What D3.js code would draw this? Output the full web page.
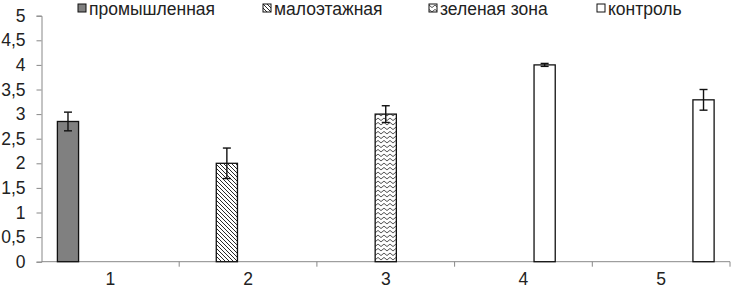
<!DOCTYPE html>
<html>
<head>
<meta charset="utf-8">
<script src="https://cdn.jsdelivr.net/npm/d3@7"></script>
<style>
  body { margin: 0; background: #fff; }
  text { font-family: "Liberation Sans", Arial, sans-serif; fill: #222; }
</style>
</head>
<body>
<svg></svg>
<script>
// categories on the x axis
const categories = ["1", "2", "3", "4", "5"];
// five series (slots inside each group); only the first four are in the legend
const slots = ["s1", "s2", "s3", "s4", "s5"];
const legendNames = ["промышленная", "малоэтажная", "зеленая зона", "контроль"];
// one non-empty bar per category, in slot = category index
const means = [2.85, 2.0, 3.0, 4.0, 3.29];
const errors = [0.19, 0.31, 0.17, 0.03, 0.21];
const yTicks = [0, 0.5, 1, 1.5, 2, 2.5, 3, 3.5, 4, 4.5, 5];
const fills = ["#808080", "url(#diag)", "url(#zig)", "#fff", "#fff"];

const WIDTH = 731, HEIGHT = 289;
const M = {left: 41.5, right: 1, top: 15.7, bottom: 27.3};
const FONT = '17.5px';

const svg = d3.select('svg')
  .attr('width', WIDTH)
  .attr('height', HEIGHT);

// patterns
const defs = svg.append('defs');
const diag = defs.append('pattern')
  .attr('id', 'diag').attr('patternUnits', 'userSpaceOnUse')
  .attr('width', 4).attr('height', 4);
diag.append('rect').attr('width', 4).attr('height', 4).attr('fill', '#fff');
diag.append('path').attr('d', 'M-1,-1 L5,5 M-1,3 L1,5 M3,-1 L5,1')
  .attr('stroke', '#111').attr('stroke-width', 0.9);

const zig = defs.append('pattern')
  .attr('id', 'zig').attr('patternUnits', 'userSpaceOnUse')
  .attr('width', 6).attr('height', 4.5);
zig.append('rect').attr('width', 6).attr('height', 4.5).attr('fill', '#fff');
zig.append('path').attr('d', 'M0,1 L3,3.5 L6,1')
  .attr('stroke', '#111').attr('stroke-width', 0.8).attr('fill', 'none');

const x0 = d3.scaleBand().domain(categories).range([M.left, WIDTH - M.right]);
const x1 = d3.scaleBand().domain(slots).range([0, x0.bandwidth()])
  .paddingInner(0).paddingOuter(0.75);
const y = d3.scaleLinear().domain([0, 5]).range([HEIGHT - M.bottom, M.top]);

const fmt = d => String(d).replace('.', ',');

// y axis
const yAxis = svg.append('g')
  .attr('transform', `translate(${M.left},0)`)
  .call(d3.axisLeft(y).tickValues(yTicks).tickFormat(fmt).tickSize(5).tickPadding(11));
yAxis.select('.domain').attr('stroke', '#888');
yAxis.selectAll('.tick line').attr('stroke', '#888');
yAxis.selectAll('.tick text').style('font-size', FONT).attr('fill', '#222');

// x axis: ticks at category boundaries
const xAxis = svg.append('g')
  .attr('transform', `translate(0,${y(0)})`);
xAxis.append('line')
  .attr('x1', M.left).attr('x2', WIDTH - M.right)
  .attr('stroke', '#888');
xAxis.selectAll('.bnd')
  .data(categories)
  .enter().append('line')
  .attr('x1', d => x0(d) + x0.bandwidth()).attr('x2', d => x0(d) + x0.bandwidth())
  .attr('y1', 0).attr('y2', 5)
  .attr('stroke', '#888');
xAxis.selectAll('.lbl')
  .data(categories)
  .enter().append('text')
  .text(d => d)
  .attr('x', d => x0(d) + x0.bandwidth() / 2)
  .attr('y', 23.5)
  .attr('text-anchor', 'middle')
  .style('font-size', FONT);

// bars
const barX = (d, i) => x0(categories[i]) + x1(slots[i]);
svg.selectAll('.bar')
  .data(means)
  .enter().append('rect')
  .attr('x', barX)
  .attr('y', d => y(d))
  .attr('width', x1.bandwidth())
  .attr('height', d => y(0) - y(d))
  .attr('fill', (d, i) => fills[i])
  .attr('stroke', '#111')
  .attr('stroke-width', 1.3);

// error bars
const err = svg.selectAll('.err')
  .data(means)
  .enter().append('g')
  .attr('stroke', '#111').attr('stroke-width', 1.4);
const cx = (d, i) => barX(d, i) + x1.bandwidth() / 2;
err.append('line')
  .attr('x1', cx).attr('x2', cx)
  .attr('y1', (d, i) => y(d + errors[i])).attr('y2', (d, i) => y(d - errors[i]));
err.append('line')
  .attr('x1', (d, i) => cx(d, i) - 4).attr('x2', (d, i) => cx(d, i) + 4)
  .attr('y1', (d, i) => y(d + errors[i])).attr('y2', (d, i) => y(d + errors[i]));
err.append('line')
  .attr('x1', (d, i) => cx(d, i) - 4).attr('x2', (d, i) => cx(d, i) + 4)
  .attr('y1', (d, i) => y(d - errors[i])).attr('y2', (d, i) => y(d - errors[i]));

// legend
const legendX = [78, 263, 429, 597];
const leg = svg.selectAll('.leg')
  .data(legendNames)
  .enter().append('g')
  .attr('transform', (d, i) => `translate(${legendX[i]},4)`);
leg.append('rect')
  .attr('width', 8).attr('height', 8)
  .attr('fill', (d, i) => fills[i])
  .attr('stroke', '#111').attr('stroke-width', 1);
leg.append('text')
  .text(d => d)
  .attr('x', 11)
  .attr('y', 10.5)
  .style('font-size', FONT);
</script>
</body>
</html>
